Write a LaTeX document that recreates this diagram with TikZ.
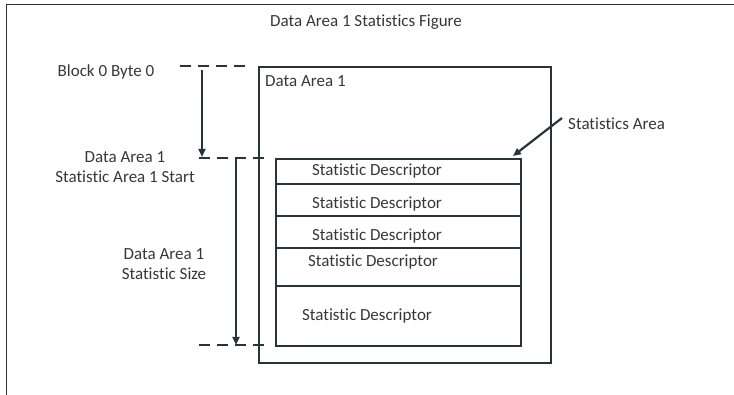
\documentclass[tikz,border=0pt]{standalone}
\usepackage{fontspec}
\setmainfont[Ligatures={NoCommon}]{Carlito}
\usetikzlibrary{arrows.meta}
\definecolor{ln}{RGB}{40,52,60}
\definecolor{tx}{RGB}{55,55,55}
\begin{document}
\begin{tikzpicture}[x=1pt,y=-1pt,
 lbl/.style={text=tx,font=\fontsize{17}{20}\selectfont,inner sep=0pt,align=center,yshift=-1.5pt},
 boxln/.style={draw=ln,line width=1.6pt,inner sep=0pt},
 dashln/.style={draw=ln,line width=2.8pt,dash pattern=on 11pt off 7pt},
 arr/.style={draw=ln,line width=2.2pt,-{Triangle[width=7pt,length=8pt]}},
 frame/.style={draw=ln,line width=1.6pt},
]
\useasboundingbox (0,0) rectangle (734,395);
% page frame (top and left)
\coordinate (fa) at (6.5,395);
\coordinate (fb) at (6.5,4.5);
\coordinate (fc) at (734,4.5);
\draw[frame] (fa) -- (fb) -- (fc);

\node[lbl] (title) at (366,21) {Data Area 1 Statistics Figure};

% outer box
\node[boxln,minimum width=292pt,minimum height=296pt,anchor=north west] (outer) at (258,66) {};
\node[lbl,anchor=west] (outerlbl) at (265,80) {Data Area 1};

% rows
\node[boxln,minimum width=245pt,minimum height=25pt,anchor=north west] (r1) at (275,158) {};
\node[boxln,minimum width=245pt,minimum height=32pt,anchor=north west] (r2) at (275,183) {};
\node[boxln,minimum width=245pt,minimum height=32pt,anchor=north west] (r3) at (275,215) {};
\node[boxln,minimum width=245pt,minimum height=38pt,anchor=north west] (r4) at (275,247) {};
\node[boxln,minimum width=245pt,minimum height=60pt,anchor=north west] (r5) at (275,285) {};
\node[lbl] (t1) at (377,170) {Statistic Descriptor};
\node[lbl] (t2) at (377,203) {Statistic Descriptor};
\node[lbl] (t3) at (377,235) {Statistic Descriptor};
\node[lbl] (t4) at (373,261) {Statistic Descriptor};
\node[lbl] (t5) at (367,315) {Statistic Descriptor};

% left labels
\node[lbl] (blk) at (106,70) {Block 0 Byte 0};
\node[lbl] (start) at (125,166) {Data Area 1\\Statistic Area 1 Start};
\node[lbl] (size) at (164,263) {Data Area 1\\Statistic Size};
\node[lbl,anchor=west] (sa) at (568,122) {Statistics Area};

% dashed guide lines
\coordinate (d1a) at (180,66);
\coordinate (d1b) at (248,66);
\coordinate (d2a) at (199,158);
\coordinate (d2b) at (267,158);
\coordinate (d3a) at (199,345);
\coordinate (d3b) at (267,345);
\draw[dashln] (d1a) -- (d1b);
\draw[dashln] (d2a) -- (d2b);
\draw[dashln] (d3a) -- (d3b);

% arrows
\coordinate (a1s) at (202,70);
\coordinate (a1e) at (202,157);
\draw[arr] (a1s) -- (a1e);
\coordinate (a2s) at (236,159);
\coordinate (a2e) at (236,345);
\draw[arr] (a2s) -- (a2e);
\coordinate (a3s) at (562,118);
\coordinate (a3e) at (513,156);
\draw[arr] (a3s) -- (a3e);
\end{tikzpicture}
\end{document}
